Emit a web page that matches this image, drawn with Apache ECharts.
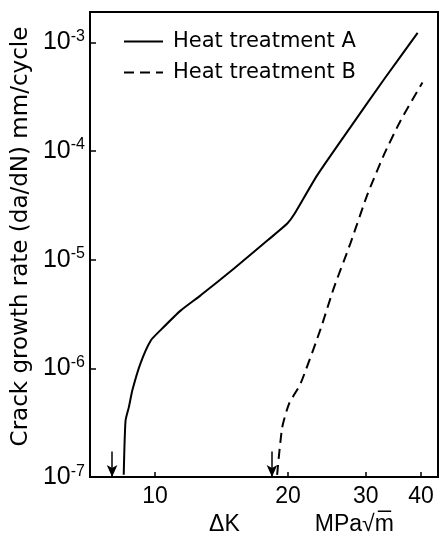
<!DOCTYPE html>
<html>
<head>
<meta charset="utf-8">
<script src="https://cdn.jsdelivr.net/npm/echarts@6/dist/echarts.min.js"></script>
<style>html,body{margin:0;padding:0;background:#fff}#c{width:441px;height:541px}</style>
</head>
<body>
<div id="c"></div>
<script>
// Heat treatment A (solid)
const dkA = [8.5, 8.58, 8.73, 8.89, 9.28, 9.78, 10.3, 11.43, 12.69, 15.1, 17.96, 19.93, 20.64, 23.3, 27.7, 33.0, 39.3];
const rateA = [1.05e-7, 3.3e-7, 4.4e-7, 6.3e-7, 1.12e-6, 1.8e-6, 2.25e-6, 3.4e-6, 4.7e-6, 8.3e-6, 1.5e-5, 2.15e-5, 2.6e-5, 6.0e-5, 1.66e-4, 4.57e-4, 1.22e-3];
// Heat treatment B (dashed)
const dkB = [18.9, 19.4, 20.1, 21.37, 23.7, 25.4, 27.7, 30.2, 33.0, 36.0, 40.3];
const rateB = [1.05e-7, 2.84e-7, 4.7e-7, 7.3e-7, 2.3e-6, 5.5e-6, 1.42e-5, 3.9e-5, 9.3e-5, 1.92e-4, 4.26e-4];
// threshold arrows
const thresholds = [8.0, 18.4];
const arrowTop = 1.72e-7;
const xTicks = [10, 20, 30, 40];
const seriesNames = ['Heat treatment A', 'Heat treatment B'];

const chart = echarts.init(document.getElementById('c'), null, {renderer: 'canvas'});
const pairs = (xs, ys) => xs.map((x, i) => [x, ys[i]]);
const arrowLine = x => [{coord: [x, arrowTop], symbol: 'none'}, {coord: [x, 1e-7], symbol: 'arrow'}];

chart.setOption({
  animation: false,
  grid: {left: 90, right: 3, top: 12, bottom: 55, containLabel: false, show: true, borderColor: '#000', borderWidth: 2},
  legend: {
    orient: 'vertical', left: 123, top: 31, padding: 0, itemWidth: 39, itemHeight: 20, itemGap: 10,
    itemStyle: {opacity: 0},
    textStyle: {fontFamily: 'DejaVu Sans', fontSize: 21, color: '#000', padding: [0, 0, 0, 5]},
    data: seriesNames
  },
  xAxis: {
    type: 'log', logBase: 10, min: 7.13, max: 43.7,
    axisLine: {lineStyle: {color: '#000', width: 2}},
    axisTick: {inside: true, length: 5, lineStyle: {color: '#000', width: 1.5}, customValues: xTicks},
    axisLabel: {customValues: xTicks, margin: 8, color: '#000', fontFamily: 'Liberation Sans', fontSize: 23,
      formatter: v => String(Math.round(v))},
    splitLine: {show: false}, minorTick: {show: false},
    name: '{a|ΔK}{g|}{b|MPa√m\u0305}', nameLocation: 'middle', nameGap: 34,
    nameTextStyle: {padding: [0, 0, 0, 75], rich: {
      a: {fontFamily: 'Liberation Sans', fontSize: 23, color: '#000'},
      g: {width: 75},
      b: {fontFamily: 'Liberation Sans', fontSize: 23, color: '#000'}
    }}
  },
  yAxis: {
    type: 'log', logBase: 10, min: 1e-7, max: 1.9e-3,
    axisLine: {lineStyle: {color: '#000', width: 2}},
    axisTick: {inside: true, length: 6, lineStyle: {color: '#000', width: 1.5}},
    axisLabel: {margin: 5, color: '#000', showMaxLabel: false,
      formatter: v => '{b|10}{e|' + Math.round(Math.log10(v)) + '}',
      rich: {
        b: {fontFamily: 'Liberation Sans', fontSize: 25, color: '#000'},
        e: {fontFamily: 'Liberation Sans', fontSize: 16, color: '#000', padding: [0, 0, 12, 0]}
      }},
    splitLine: {show: false},
    name: 'Crack growth rate (da/dN) mm/cycle', nameLocation: 'middle', nameGap: 46,
    nameTextStyle: {fontFamily: 'DejaVu Sans', fontSize: 23, color: '#000', padding: [0, 0, 0, 16]}
  },
  series: [
    {name: seriesNames[0], type: 'line', data: pairs(dkA, rateA), symbol: 'none', smooth: 0.2,
      lineStyle: {color: '#000', width: 2, type: 'solid'}, itemStyle: {color: '#000'},
      markLine: {silent: true, symbolSize: [8, 12], label: {show: false},
        lineStyle: {color: '#000', width: 1.5, type: 'solid'}, data: [arrowLine(thresholds[0])]}},
    {name: seriesNames[1], type: 'line', data: pairs(dkB, rateB), symbol: 'none', smooth: 0.2,
      lineStyle: {color: '#000', width: 2, type: [10, 6]}, itemStyle: {color: '#000'},
      markLine: {silent: true, symbolSize: [8, 12], label: {show: false},
        lineStyle: {color: '#000', width: 1.5, type: 'solid'}, data: [arrowLine(thresholds[1])]}}
  ]
});
</script>
</body>
</html>
